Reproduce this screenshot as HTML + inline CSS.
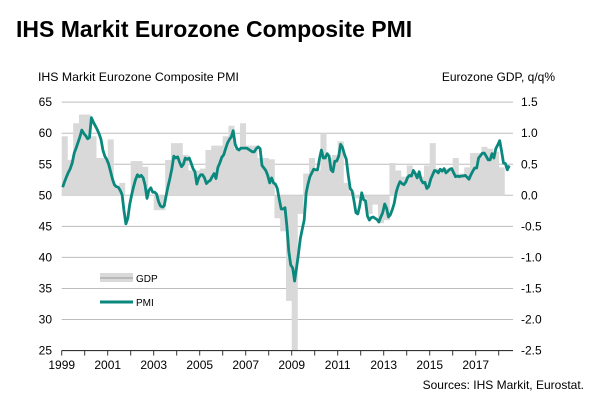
<!DOCTYPE html>
<html><head><meta charset="utf-8"><style>
body{margin:0;background:#fff;width:605px;height:407px;overflow:hidden}
svg{display:block;font-family:"Liberation Sans",Arial,sans-serif}
</style></head><body>
<svg id="chart" width="605" height="407">
<text x="16" y="37" font-size="23" font-weight="bold" fill="#000">IHS Markit Eurozone Composite PMI</text>
<text x="38" y="81" font-size="12.3" fill="#000">IHS Markit Eurozone Composite PMI</text>
<text x="555" y="81" font-size="12" fill="#000" text-anchor="end">Eurozone GDP, q/q%</text>
<text x="584" y="389" font-size="12" fill="#000" text-anchor="end">Sources: IHS Markit, Eurostat.</text>
<g id="grid"></g><g id="bars"></g><g id="axes"></g><g id="line"></g>
<g>
<rect x="100" y="273" width="33" height="9" fill="#d9d9d9"/>
<line x1="100" y1="278" x2="133" y2="278" stroke="#999" stroke-width="1"/>
<text x="136" y="282" font-size="10">GDP</text>
<line x1="100" y1="302" x2="133" y2="302" stroke="#0b887d" stroke-width="3"/>
<text x="136" y="306" font-size="10">PMI</text>
</g>
</svg>
<script>
const gdp = [0.95,0.57,1.16,1.3, 1.3,0.95,0.6,0.6, 0.9,0.15,0.2,0.0, 0.55,0.55,0.46,0.0, -0.24,-0.24,0.57,0.84, 0.84,0.65,0.4,0.4, 0.43,0.73,0.8,0.8, 0.95,1.12,0.75,1.16, 0.8,0.8,0.6,0.6, 0.58,-0.37,-0.58,-1.7, -2.5,-0.3,0.35,0.6, 0.4,1.0,0.6,0.65, 0.87,0.2,0.05,-0.05, -0.05,-0.3,-0.15,-0.45, -0.4,0.52,0.4,0.3, 0.48,0.33,0.3,0.48, 0.84,0.43,0.43,0.43, 0.6,0.35,0.45,0.68, 0.68,0.78,0.75,0.7, 0.45];
const pmi = [51.3,52.2,53.0,53.7,54.3,55.2,56.8,57.6,58.5,59.4,60.5,60.0,
59.6,59.1,59.3,62.5,61.8,61.2,60.6,59.9,59.0,57.3,56.3,55.8,
55.0,53.8,52.6,51.7,51.4,51.3,50.8,50.1,47.5,45.4,46.3,48.5,
50.1,51.4,52.5,53.3,53.0,53.2,52.8,51.6,49.5,50.8,51.2,50.5,
50.5,50.2,49.0,48.3,48.1,48.3,50.0,51.5,52.8,54.3,56.3,56.0,
56.2,55.3,54.6,55.0,56.0,55.8,56.0,55.2,54.3,53.8,51.8,52.8,
53.3,53.3,52.8,51.9,52.2,52.4,53.0,53.5,52.7,54.5,55.2,56.1,
56.5,57.5,58.4,59.0,59.4,60.4,58.2,57.5,57.3,57.6,57.6,57.6,
57.6,57.4,57.2,57.0,57.0,57.5,57.8,57.5,54.8,54.4,54.0,53.2,
52.0,52.8,52.0,51.8,51.1,49.4,47.8,47.8,48.0,45.0,41.0,38.8,
38.3,36.2,38.3,40.5,43.0,44.5,46.0,50.3,51.8,53.0,53.6,54.2,
54.1,54.1,55.9,57.3,56.0,56.0,56.7,56.3,54.1,53.8,55.5,55.5,
56.3,58.2,57.7,56.6,55.8,53.3,51.1,50.7,49.1,47.2,47.0,48.3,
50.4,49.3,49.1,46.7,46.0,46.4,46.5,46.3,46.1,45.7,46.5,47.2,
48.6,47.9,46.5,46.9,47.7,48.7,50.5,51.5,52.2,51.9,51.7,52.1,
52.9,53.2,53.1,54.0,53.5,52.8,53.8,52.5,52.0,52.1,51.1,51.4,
52.6,53.3,54.0,53.9,53.6,54.2,53.9,54.3,53.6,53.9,54.2,54.3,
53.6,53.0,53.1,53.0,53.1,53.1,53.2,52.9,52.6,53.3,53.9,54.4,
54.4,56.0,56.4,56.8,56.8,56.3,55.7,55.7,56.7,56.0,57.5,58.1,
58.8,57.1,55.2,55.1,54.1,54.8];
const leftTicks = [65,60,55,50,45,40,35,30,25];
const rightTicks = ["1.5","1.0","0.5","0.0","-0.5","-1.0","-1.5","-2.0","-2.5"];
const yearLabels = [1999,2001,2003,2005,2007,2009,2011,2013,2015,2017];

const NS="http://www.w3.org/2000/svg";
const X0=61.7, PY=23, XR=513;
const yP = v => 195.3 - (v-50)*6.21;
const yG = v => 195.3 - v*62.1;
const xT = t => X0 + t*PY;
function mk(tag,attrs,parent){const e=document.createElementNS(NS,tag);for(const k in attrs)e.setAttribute(k,attrs[k]);parent.appendChild(e);return e;}
const grid=document.getElementById('grid'),bars=document.getElementById('bars'),axes=document.getElementById('axes'),line=document.getElementById('line');

leftTicks.forEach((v,i)=>{
  const y=yP(v);
  if(v!==25){const g=mk('line',{x1:X0,x2:XR,y1:y,y2:y,stroke:'#bdbdbd','stroke-width':1},grid);
  
  }
  const t=mk('text',{x:52,y:y+4,'font-size':12,'text-anchor':'end'},axes);t.textContent=v;
  
  
  const r=mk('text',{x:521,y:y+4,'font-size':12},axes);r.textContent=rightTicks[i];
  
  
});
gdp.forEach((v,i)=>{
  const x1=xT(i/4),x2=xT((i+1)/4),y0=yG(0),y1=yG(v);
  const b=mk('rect',{x:x1,width:x2-x1+0.3,y:Math.min(y0,y1),height:Math.max(Math.abs(y1-y0),0.5),fill:'#d9d9d9'},bars);
  
  
});
const ax=mk('line',{x1:X0,x2:XR,y1:yP(25),y2:yP(25),stroke:'#333','stroke-width':1.2},axes);


for(let yr=0;yr<=19;yr++){const x=xT(yr);if(x>XR+1)break;
  const tk=mk('line',{x1:x,x2:x,y1:yP(25),y2:yP(25)+5,stroke:'#333','stroke-width':1},axes);
  
  }
yearLabels.forEach(yr=>{const t=mk('text',{x:xT(yr-1999),y:369,'font-size':12,'text-anchor':'middle'},axes);t.textContent=yr;
  
  });
const pts=pmi.map((v,i)=>xT((i+0.5)/12).toFixed(1)+','+yP(v).toFixed(1)).join(' ');
const pl=mk('polyline',{points:pts,fill:'none',stroke:'#0b887d','stroke-width':2.8,'stroke-linejoin':'round'},line);


</script>
</body></html>
